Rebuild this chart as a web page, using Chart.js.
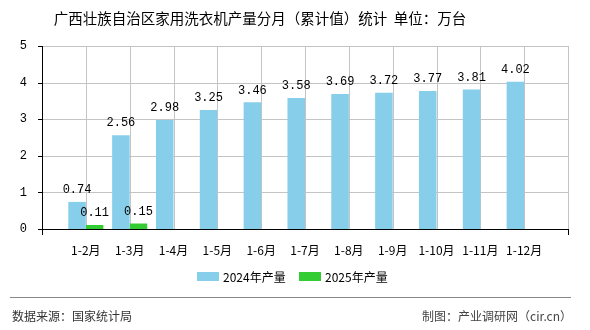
<!DOCTYPE html>
<html><head><meta charset="utf-8">
<script src="https://cdn.jsdelivr.net/npm/chart.js@4/dist/chart.umd.min.js"></script>
<style>html,body{margin:0;padding:0;background:#fff}#wrap{width:590px;height:330px;position:relative}</style>
</head><body><div id="wrap"><canvas id="c" width="590" height="330"></canvas></div>
<script>
const categories = ["", "1-2月", "1-3月", "1-4月", "1-5月", "1-6月", "1-7月", "1-8月", "1-9月", "1-10月", "1-11月", "1-12月", ""];
const values2024 = [null, 0.74, 2.56, 2.98, 3.25, 3.46, 3.58, 3.69, 3.72, 3.77, 3.81, 4.02, null];
const values2025 = [null, 0.11, 0.15, null, null, null, null, null, null, null, null, null, null];
const yTicks = [0, 1, 2, 3, 4, 5];
const seriesNames = ["2024年产量", "2025年产量"];
const titleText = "广西壮族自治区家用洗衣机产量分月（累计值）统计  单位：万台";
const sourceText = "数据来源：国家统计局";
const creditText = "制图：产业调研网（cir.cn）";

const CJK = '"Noto Sans CJK SC", "Noto Sans", sans-serif';
const MONO = '"Liberation Mono", "DejaVu Sans Mono", monospace';

const gridPlugin = {
  id: 'gridPlugin',
  beforeDatasetsDraw(chart) {
    const ctx = chart.ctx;
    const xs = chart.scales.x, ys = chart.scales.y;
    const a = chart.chartArea;
    const top = Math.round(ys.getPixelForValue(yTicks[yTicks.length - 1]));
    const bot = Math.round(ys.getPixelForValue(0));
    const left = Math.round(xs.getPixelForValue(0));
    const right = Math.round(xs.getPixelForValue(categories.length - 1));
    ctx.save();
    ctx.fillStyle = '#c4c4c4';
    for (let k = 1; k < yTicks.length; k++) {
      const y = Math.round(ys.getPixelForValue(yTicks[k]));
      ctx.fillRect(left, y, right - left + 1, 1);
    }
    for (let i = 1; i < categories.length; i++) {
      const x = Math.round(xs.getPixelForValue(i));
      ctx.fillRect(x, top, 1, bot - top);
    }
    ctx.restore();
  },
  afterDatasetsDraw(chart) {
    const ctx = chart.ctx;
    const xs = chart.scales.x, ys = chart.scales.y;
    const top = Math.round(ys.getPixelForValue(yTicks[yTicks.length - 1]));
    const bot = Math.round(ys.getPixelForValue(0));
    const left = Math.round(xs.getPixelForValue(0));
    const right = Math.round(xs.getPixelForValue(categories.length - 1));
    ctx.save();
    ctx.fillStyle = '#000';
    ctx.fillRect(left, top, 1, bot - top + 1);
    ctx.fillRect(left, bot, right - left + 1, 1);
    for (let k = 0; k < yTicks.length; k++) {
      const y = Math.round(ys.getPixelForValue(yTicks[k]));
      ctx.fillRect(left - 4, y, 4, 1);
    }
    ctx.fillRect(left, bot, 1, 6);
    ctx.fillRect(right, bot, 1, 6);
    ctx.restore();
  }
};

const decor = {
  id: 'decor',
  afterDraw(chart) {
    const ctx = chart.ctx;
    ctx.save();
    ctx.fillStyle = '#000';
    ctx.font = '14.5px ' + CJK;
    ctx.textAlign = 'center';
    ctx.textBaseline = 'middle';
    ctx.fillText(titleText, 260, 18);
    ctx.font = '12px ' + MONO;
    ctx.fillStyle = '#000';
    ctx.textBaseline = 'middle';
    chart.data.datasets.forEach((ds, di) => {
      const meta = chart.getDatasetMeta(di);
      meta.data.forEach((bar, i) => {
        const v = ds.data[i];
        if (v === null || v === undefined) return;
        ctx.fillText(v.toFixed(2), bar.x, bar.y - 12);
      });
    });
    ctx.textAlign = 'left';
    ctx.font = '12px ' + CJK;
    const legendItems = [{x: 197, color: chart.data.datasets[0].backgroundColor, text: seriesNames[0]},
                         {x: 299, color: chart.data.datasets[1].backgroundColor, text: seriesNames[1]}];
    legendItems.forEach(it => {
      ctx.fillStyle = it.color;
      ctx.fillRect(it.x, 272, 22, 9);
      ctx.fillStyle = '#000';
      ctx.fillText(it.text, it.x + 26, 277);
    });
    ctx.fillStyle = '#888';
    ctx.fillRect(10, 297, 561, 1);
    ctx.font = '12px ' + CJK;
    ctx.fillStyle = '#333';
    ctx.textAlign = 'left';
    ctx.fillText(sourceText, 12, 316);
    ctx.fillStyle = '#444';
    ctx.textAlign = 'right';
    ctx.fillText(creditText, 572, 316);
    ctx.restore();
  }
};

new Chart(document.getElementById('c'), {
  type: 'bar',
  data: {
    labels: categories,
    datasets: [
      {label: seriesNames[0], data: values2024, backgroundColor: '#87CEEB', categoryPercentage: 0.8, barPercentage: 1},
      {label: seriesNames[1], data: values2025, backgroundColor: '#33CC33', categoryPercentage: 0.8, barPercentage: 1}
    ]
  },
  options: {
    responsive: false,
    animation: false,
    layout: {padding: {left: 0, right: 22, top: 46, bottom: 0}},
    plugins: {legend: {display: false}, title: {display: false}, tooltip: {enabled: false}},
    scales: {
      x: {
        offset: false,
        grid: {display: false},
        border: {display: false},
        ticks: {
          color: '#000',
          font: {family: CJK, size: 12},
          padding: 6,
          maxRotation: 0,
          autoSkip: false
        },
        afterFit(s) { s.height = 101; }
      },
      y: {
        min: 0, max: 5,
        afterBuildTicks(s) { s.ticks = yTicks.map(v => ({value: v})); },
        grid: {display: false},
        border: {display: false},
        ticks: {color: '#000', font: {family: MONO, size: 12}, padding: 7},
        afterFit(s) { s.width = 42; }
      }
    }
  },
  plugins: [gridPlugin, decor]
});
</script></body></html>
